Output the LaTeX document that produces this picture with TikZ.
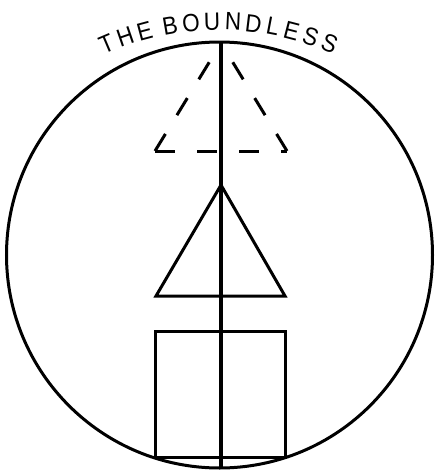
\documentclass[tikz,border=0pt]{standalone}
\usepackage{fontspec}
\newfontfamily\lsans[FakeStretch=0.9]{Liberation Sans}
\begin{document}
\begin{tikzpicture}[x=1pt,y=-1pt,
  thick line/.style={line width=3pt},
  dashline/.style={line width=3pt, dash pattern=on 20pt off 22pt},
  lettr/.style={anchor=base, inner sep=0pt, font=\lsans\fontsize{25}{30}\selectfont}]
\useasboundingbox (0,0) rectangle (435,474);
% circle
\coordinate (c) at (219.5,255);
\draw[thick line] (c) circle[radius=213];
% axis
\coordinate (top) at (221,42);
\coordinate (bot) at (221,468);
\draw[line width=3.5pt] (top) -- (bot);
% dashed triangle
\coordinate (da) at (221,43);
\coordinate (dl) at (155,151);
\coordinate (dr) at (287,151);
\draw[dashline] (dl) -- (da);
\draw[dashline] (dr) -- (da);
\draw[dashline] (dl) -- (dr);
% solid triangle
\coordinate (ta) at (221,185);
\coordinate (tl) at (156,296);
\coordinate (tr) at (285,296);
\draw[thick line, line join=miter] (ta) -- (tl) -- (tr) -- cycle;
% square
\coordinate (s1) at (155,331);
\coordinate (s2) at (285,457);
\draw[thick line] (s1) rectangle (s2);
% text
\foreach \ch/\ang [count=\i] in {T/-23.0, H/-19.0, E/-15.0, B/-9.8, O/-5.6, U/-1.4, N/2.8, D/6.9, L/10.8, E/14.6, S/18.6, S/22.6}
  \node[lettr, rotate=-\ang] (l\i) at ({219+279*sin(\ang)},{309-279*cos(\ang)}) {\ch};
\end{tikzpicture}
\end{document}
